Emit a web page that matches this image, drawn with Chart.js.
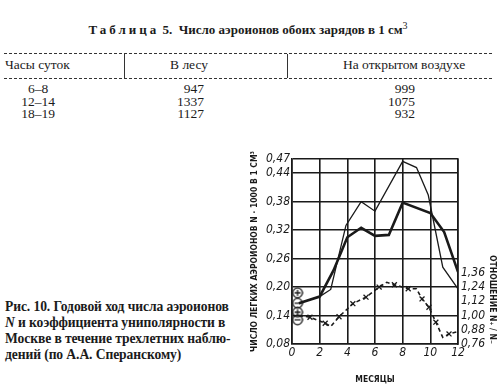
<!DOCTYPE html>
<html>
<head>
<meta charset="utf-8">
<script src="https://cdn.jsdelivr.net/npm/chart.js@4.4.0/dist/chart.umd.min.js"></script>
<style>
  html, body { margin: 0; padding: 0; background: #fff; }
  #page { position: relative; width: 501px; height: 385px; overflow: hidden; font-family: "Liberation Serif", "DejaVu Serif", serif; color: #1b1b1b; }
  .abs { position: absolute; white-space: nowrap; }
  .title { top: 20px; left: 0; width: 496px; text-align: center; font-size: 13px; font-weight: bold; }
  .title sup { font-size: 10px; font-weight: normal; }
  .dash { left: 4px; width: 488px; border-top: 1px dashed #333; height: 0; }
  .vsep { width: 0; border-left: 1px solid #333; top: 54px; height: 24px; }
  .cell { font-size: 13.5px; line-height: 12.5px; }
  .caption { left: 5px; top: 299px; font-size: 13.6px; font-weight: bold; line-height: 16px; letter-spacing: -0.1px; }
  #wrap { position: absolute; left: 240px; top: 140px; width: 261px; height: 245px; }
</style>
</head>
<body>
<div id="page">
  <div class="abs title"><span style="letter-spacing:3px">Таблица</span> 5.&nbsp; Число аэроионов обоих зарядов в 1 см<sup>3</sup></div>

  <div class="abs dash" style="top:53px"></div>
  <div class="abs dash" style="top:78px"></div>
  <div class="abs vsep" style="left:124px"></div>
  <div class="abs vsep" style="left:287px"></div>

  <div class="abs cell" style="left:5px; top:59px">Часы суток</div>
  <div class="abs cell" style="left:170px; top:59px">В лесу</div>
  <div class="abs cell" style="left:343px; top:59px">На открытом воздухе</div>

  <div class="abs cell" style="left:8px; width:60px; text-align:center; top:83px">6–8<br>12–14<br>18–19</div>
  <div class="abs cell" style="left:150px; width:54px; text-align:right; top:83px">947<br>1337<br>1127</div>
  <div class="abs cell" style="left:360px; width:55px; text-align:right; top:83px">999<br>1075<br>932</div>

  <div class="abs caption">Рис. 10. Годовой ход числа аэроионов<br><i>N</i> и коэффициента униполярности в<br>Москве в течение трехлетних наблю-<br>дений (по А.А. Сперанскому)</div>

  <div id="wrap"><canvas id="chart" width="261" height="245"></canvas></div>
</div>
<script>
// months on x, N (thousands per cm3) on left axis, N+/N- on right axis
const thinX = [0.5, 2, 2.8, 3.9, 5, 6, 8, 9, 9.85, 10.9, 12];
const thinY = [0.166, 0.18, 0.195, 0.33, 0.38, 0.36, 0.465, 0.452, 0.394, 0.242, 0.196];

const thickX = [0.5, 2, 3, 4, 5, 6, 7, 8, 10, 11, 12];
const thickY = [0.166, 0.18, 0.235, 0.305, 0.325, 0.308, 0.31, 0.378, 0.356, 0.316, 0.232];

const ratioX = [0.5, 1.3, 2.4, 2.8, 3.4, 4.4, 5.35, 6.3, 6.85, 7.4, 8.4, 9, 9.4, 9.9, 10.4, 10.9, 11.35, 12];
const ratioY = [1.0, 0.986, 0.935, 0.907, 0.99, 1.10, 1.155, 1.24, 1.28, 1.26, 1.226, 1.226, 1.14, 1.07, 0.944, 0.816, 0.845, 0.865];
const ratioMarked = [0, 1, 1, 0, 1, 1, 1, 1, 0, 1, 1, 0, 1, 1, 1, 0, 1, 0];

const signX = [0.4, 0.4, 0.4, 0.4];
const signY = [0.188, 0.166, 0.147, 0.131];
const signs = ['+', '-', '+', '-'];

const xTicks = [0, 2, 4, 6, 8, 10, 12];
const leftTicks = [0.08, 0.14, 0.20, 0.26, 0.32, 0.38, 0.44, 0.47];
const rightTicks = [0.76, 0.88, 1.00, 1.12, 1.24, 1.36];

const ink = '#1a1a1a';
const pts = (xs, ys) => xs.map((x, i) => ({x, y: ys[i]}));
const comma = (v, d) => v.toFixed(d).replace('.', ',');

function signMark(s){
  const c = document.createElement('canvas');
  c.width = 12; c.height = 12;
  const g = c.getContext('2d');
  g.strokeStyle = ink; g.lineWidth = 1.3;
  g.beginPath(); g.arc(6, 6, 4.8, 0, Math.PI*2); g.stroke();
  g.beginPath(); g.moveTo(3, 6); g.lineTo(9, 6);
  if (s === '+') { g.moveTo(6, 3); g.lineTo(6, 9); }
  g.stroke();
  return c;
}

const tickFont = {family: "'DejaVu Sans Condensed', 'DejaVu Sans', sans-serif", size: 12, style: 'italic'};
const titleFont = {family: "'DejaVu Sans Condensed', 'DejaVu Sans', sans-serif", size: 8.5, weight: 'bold'};

new Chart(document.getElementById('chart'), {
  type: 'line',
  data: {
    datasets: [
      {data: pts(thinX, thinY), yAxisID: 'y', borderColor: ink, borderWidth: 1.3, pointRadius: 0, tension: 0},
      {data: pts(thickX, thickY), yAxisID: 'y', borderColor: ink, borderWidth: 2.6, pointRadius: 0, tension: 0},
      {data: pts(ratioX, ratioY), yAxisID: 'y2', borderColor: ink, borderWidth: 1.6, borderDash: [4, 3], tension: 0,
       pointStyle: 'crossRot', pointBorderColor: ink, pointBorderWidth: 1.3,
       pointRadius: ctx => ratioMarked[ctx.dataIndex] ? 3.5 : 0},
      {data: pts(signX, signY), yAxisID: 'y', showLine: false, pointStyle: signs.map(signMark), pointRadius: 6}
    ]
  },
  options: {
    responsive: false,
    animation: false,
    layout: {padding: {top: 19, left: 0, right: 0, bottom: 0}},
    plugins: {legend: {display: false}, tooltip: {enabled: false}},
    scales: {
      x: {
        type: 'linear', min: 0, max: 12,
        afterBuildTicks: s => { s.ticks = xTicks.map(v => ({value: v})); },
        afterFit: s => { s.height = 41; },
        ticks: {color: ink, font: tickFont, padding: 2, maxRotation: 0},
        grid: {color: ink, lineWidth: 1.6, drawTicks: false},
        border: {color: ink, width: 1.6},
        title: {display: true, text: 'МЕСЯЦЫ', color: ink, font: titleFont, padding: {top: 6, bottom: 0}}
      },
      y: {
        position: 'left', min: 0.08, max: 0.47,
        afterBuildTicks: s => { s.ticks = leftTicks.map(v => ({value: v})); },
        afterFit: s => { s.width = 52; },
        ticks: {color: ink, font: tickFont, padding: 2, callback: v => comma(v, 2)},
        grid: {color: ink, lineWidth: 1.6, drawTicks: false},
        border: {color: ink, width: 1.6},
        title: {display: true, text: 'ЧИСЛО ЛЕГКИХ АЭРОИОНОВ N · 1000 В 1 СМ³', color: ink, font: titleFont, padding: {top: 10, bottom: 0}}
      },
      y2: {
        position: 'right', min: 0.76, max: 2.32,
        afterBuildTicks: s => { s.ticks = rightTicks.map(v => ({value: v})); },
        afterFit: s => { s.width = 43; },
        ticks: {color: ink, font: tickFont, padding: 3, callback: v => comma(v, 2)},
        grid: {display: false, drawTicks: false},
        border: {color: ink, width: 1.6},
        title: {display: true, text: 'ОТНОШЕНИЕ N₊ / N₋', align: 'start', color: ink, font: titleFont, padding: {top: 4, bottom: 0}}
      }
    }
  }
});
</script>
</body>
</html>
